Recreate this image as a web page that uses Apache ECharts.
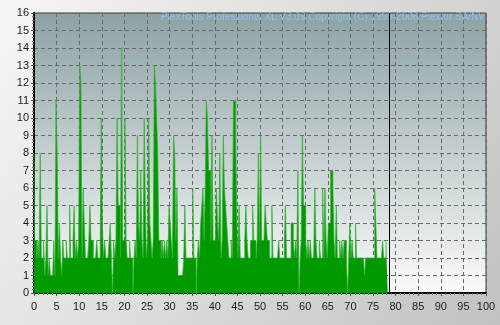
<!DOCTYPE html>
<html>
<head>
<meta charset="utf-8">
<script src="https://cdn.jsdelivr.net/npm/echarts@6/dist/echarts.min.js"></script>
<style>html,body{margin:0;padding:0;}#c{width:500px;height:325px;}</style>
</head>
<body>
<div id="c"></div>
<script>
// Sample step along the x axis (units per sample)
const sampleStep = 0.25;
// Values, 4 samples per x unit, from x = 0 to 78.5
const counts = [
  8,3,3,2,  3,2,8,2,  2,3,1,2,  5,1,2,1,  1,1,3,1,
  11,8,2,4, 2,1,3,2,  2,3,2,2,  5,2,2,3,  5,2,3,2,
  3,13,12,2, 6,4,2,2, 2,3,5,3,  3,2,2,2,  3,2,2,2,
  10,4,2,3, 2,2,2,3,  4,2,0,3,  2,3,10,5, 5,2,14,3,
  3,10,3,2, 2,3,2,2,  0,2,3,2,  9,4,3,7,  3,2,10,5,
  2,3,10,4, 3,2,3,13, 12,10,8,3, 3,2,3,2, 3,2,3,2,
  5,4,3,2,  9,8,3,6,  1,1,1,1,  1,2,5,2,  2,2,2,2,
  2,6,2,2,  0,2,3,2,  4,5,6,3,  6,11,10,7, 7,3,9,3,
  3,3,6,4,  3,8,2,3,  9,6,5,4,  3,2,2,3,  2,11,11,9,
  4,2,5,2,  2,2,2,3,  5,3,2,2,  3,3,5,3,  3,2,3,8,
  3,9,3,3,  3,5,4,3,  3,2,2,5,  2,2,2,2,  2,3,2,2,
  2,2,3,5,  2,2,2,2,  4,4,3,2,  3,2,7,0,  2,3,9,5,
  5,3,2,3,  2,3,2,2,  2,6,3,2,  2,3,2,2,  6,2,6,3,
  2,4,4,7,  7,6,3,2,  5,2,2,3,  2,3,2,3,  3,2,0,2,
  4,2,3,2,  2,4,2,2,  2,2,2,2,  2,1,2,2,  2,2,2,2,
  2,2,6,4,  2,2,2,2,  2,3,2,2,  3,3
];
const cursorX = 78.5;
const xMin = 0, xMax = 100, xStep = 5;
const yMin = 0, yMax = 16, yStep = 1;
const watermark = 'PlexTools Professional XL V3.09 Copyright (C) 1999-2006 Plextor SA/NV';

const seriesData = counts.map((v, i) => [i * sampleStep, v]);

const chart = echarts.init(document.getElementById('c'), null, {renderer: 'canvas'});
const labelFont = {fontFamily: 'Liberation Sans, Arial, sans-serif', fontSize: 11, color: '#1a1a1a'};
chart.setOption({
  animation: false,
  backgroundColor: {type: 'linear', x: 0, y: 0, x2: 1, y2: 1,
    colorStops: [{offset: 0, color: '#f6f6f3'}, {offset: 1, color: '#c2c2c2'}]},
  grid: {left: 34, right: 14, top: 13, bottom: 32, show: true,
    borderColor: '#3a3a3a', borderWidth: 1,
    backgroundColor: {type: 'linear', x: 0, y: 0, x2: 0, y2: 1,
      colorStops: [{offset: 0, color: '#8da2a5'}, {offset: 1, color: '#fbfbfb'}]}},
  graphic: [{type: 'text', right: 15, top: 12,
    style: {text: watermark, fill: '#8cc4ee', fontSize: 10, fontFamily: 'Liberation Sans, Arial, sans-serif'}}],
  xAxis: {type: 'value', min: xMin, max: xMax, interval: xStep,
    axisLine: {lineStyle: {color: '#000', width: 2}},
    axisTick: {length: 3, lineStyle: {color: '#555'}},
    minorTick: {show: true, splitNumber: 5, length: 2, lineStyle: {color: '#777'}},
    axisLabel: Object.assign({margin: 8}, labelFont),
    splitLine: {show: true, lineStyle: {color: '#6a6a6a', type: [4, 3], width: 1}}},
  yAxis: {type: 'value', min: yMin, max: yMax, interval: yStep,
    axisLine: {show: true, lineStyle: {color: '#000', width: 2}},
    axisTick: {show: true, length: 3, lineStyle: {color: '#555'}},
    minorTick: {show: true, splitNumber: 5, length: 2, lineStyle: {color: '#777'}},
    axisLabel: Object.assign({margin: 5}, labelFont),
    splitLine: {show: true, lineStyle: {color: '#6a6a6a', type: [4, 3], width: 1}}},
  series: [{type: 'line', data: seriesData, step: 'middle', showSymbol: false, symbol: 'none',
    lineStyle: {color: '#33b033', width: 0.7},
    areaStyle: {color: '#009900', opacity: 1},
    markLine: {silent: true, symbol: 'none', label: {show: false},
      lineStyle: {color: '#000', type: 'solid', width: 1},
      data: [{xAxis: cursorX}]}}]
});
</script>
</body>
</html>
